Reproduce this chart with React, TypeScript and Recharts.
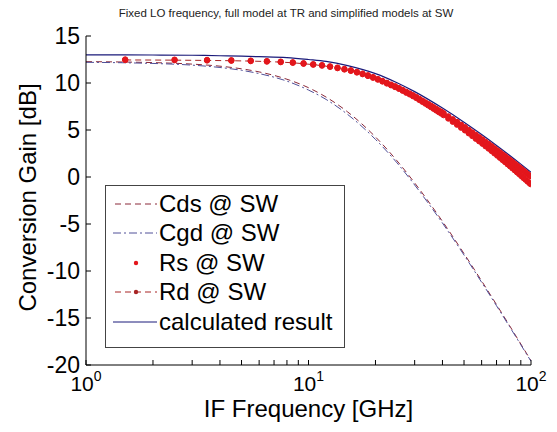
import React from "react";
import { LineChart, Line, XAxis, YAxis, Legend } from "recharts";

const FONT = "'Liberation Sans', Arial, sans-serif";

// frequencies in GHz, gains in dB
const CURVE_FREQ = [1, 1.5, 2, 3, 4, 5, 6, 8, 10, 12, 15, 20, 25, 30, 40, 50, 60, 70, 80, 90, 100];
const CDS_GAIN = [12.27, 12.23, 12.17, 12.01, 11.79, 11.51, 11.18, 10.4, 9.5, 8.5, 6.92, 4.26, 1.72, -0.63, -4.72, -8.15, -11.06, -13.58, -15.79, -17.77, -19.54];
const CGD_GAIN = [12.2, 12.15, 12.08, 11.9, 11.65, 11.35, 11.0, 10.2, 9.25, 8.25, 6.65, 4.0, 1.5, -0.85, -4.9, -8.3, -11.2, -13.7, -15.9, -17.85, -19.6];

const CALC_FREQ = [1, 2, 3, 4, 5, 6, 8, 10, 12, 15, 20, 25, 30, 40, 50, 60, 70, 80, 90, 100];
const CALC_GAIN = [13.0, 12.98, 12.95, 12.9, 12.85, 12.8, 12.7, 12.5, 12.3, 11.85, 11.0, 10.03, 9.08, 7.33, 5.83, 4.52, 3.36, 2.32, 1.37, 0.5];

const MARKER_FREQ = [
  1.5, 2.5, 3.5, 4.5, 5.5, 6.5, 7.5, 8.5, 9.5, 10.5, 11.5, 12.5, 13.5, 14.5, 15.5, 16.5, 17.5, 18.5, 19.5,
  20.5, 21.5, 22.5, 23.5, 24.5, 25.5, 26.5, 27.5, 28.5, 29.5, 30.5, 31.5, 32.5, 33.5, 34.5, 35.5, 36.5, 37.5, 38.5, 39.5, 40.5,
  42.5, 44.5, 46.5, 48.5, 50.5, 52.5, 54.5, 56.5, 58.5, 60.5, 62.5, 64.5, 66.5, 68.5, 70.5,
  72.5, 74.5, 76.5, 78.5, 80.5, 82.5, 84.5, 86.5, 88.5, 90.5, 92.5, 94.5, 96.5, 98.5, 99.5,
];
const RS_GAIN = [
  12.5, 12.48, 12.45, 12.42, 12.38, 12.33, 12.27, 12.2, 12.1, 12.0, 11.9, 11.77, 11.64, 11.5, 11.35, 11.18, 11.0, 10.82, 10.63,
  10.42, 10.22, 10.02, 9.83, 9.65, 9.46, 9.26, 9.06, 8.88, 8.7, 8.51, 8.31, 8.12, 7.94, 7.76, 7.59, 7.42, 7.25, 7.09, 6.94, 6.78,
  6.45, 6.14, 5.85, 5.56, 5.29, 5.01, 4.74, 4.48, 4.23, 3.99, 3.74, 3.51, 3.28, 3.05, 2.83,
  2.62, 2.4, 2.2, 1.99, 1.8, 1.6, 1.41, 1.22, 1.04, 0.85, 0.67, 0.5, 0.32, 0.16, 0.07,
];
const RD_GAIN = [
  12.45, 12.43, 12.4, 12.37, 12.33, 12.28, 12.22, 12.15, 12.05, 11.95, 11.85, 11.72, 11.58, 11.44, 11.29, 11.12, 10.94, 10.75, 10.56,
  10.36, 10.16, 9.95, 9.76, 9.57, 9.38, 9.18, 8.97, 8.79, 8.6, 8.41, 8.2, 8.0, 7.81, 7.62, 7.44, 7.26, 7.08, 6.91, 6.75, 6.58,
  6.22, 5.88, 5.57, 5.25, 4.96, 4.65, 4.36, 4.07, 3.8, 3.54, 3.27, 3.02, 2.77, 2.52, 2.28,
  2.05, 1.81, 1.59, 1.36, 1.15, 0.93, 0.72, 0.51, 0.31, 0.1, -0.1, -0.28, -0.48, -0.65, -0.75,
];

const X_MAJOR = [1, 10, 100];
const X_EXPONENT = ["0", "1", "2"];
const X_TICKS = [1, 2, 3, 4, 5, 6, 7, 8, 9, 10, 20, 30, 40, 50, 60, 70, 80, 90, 100];
const Y_TICKS = [-20, -15, -10, -5, 0, 5, 10, 15];

const zip = (fs: number[], gs: number[]) => fs.map((f, i) => ({ f, g: gs[i] }));

const cdsData = zip(CURVE_FREQ, CDS_GAIN);
const cgdData = zip(CURVE_FREQ, CGD_GAIN);
const calcData = zip(CALC_FREQ, CALC_GAIN);
const rsData = zip(MARKER_FREQ, RS_GAIN);
const rdData = zip(MARKER_FREQ, RD_GAIN);

const C_CDS = "#8a2838";
const C_CGD = "#505098";
const C_RS = "#e3161c";
const C_RD = "#a82424";
const C_CALC = "#1a1a7a";

const Empty = () => <g />;

// labels only on decades, minor ticks get just the tick line
const LogTick = ({ x, y, payload }: any) => {
  const i = X_MAJOR.indexOf(payload.value);
  if (i < 0) return <g />;
  return (
    <text x={x} y={y + 31} textAnchor="middle" fontSize={21} fontFamily={FONT} fill="#000">
      10
      <tspan dy={-10} fontSize={14}>
        {X_EXPONENT[i]}
      </tspan>
    </text>
  );
};

const LEGEND_ROWS = [
  { name: "Cds @ SW", kind: "cds" },
  { name: "Cgd @ SW", kind: "cgd" },
  { name: "Rs @ SW", kind: "rs" },
  { name: "Rd @ SW", kind: "rd" },
  { name: "calculated result", kind: "calc" },
];

const Sample = ({ kind }: { kind: string }) => {
  return (
    <svg width={46} height={20} style={{ display: "block" }}>
      {kind === "cds" && <line x1={2} x2={44} y1={10} y2={10} stroke={C_CDS} strokeDasharray="6 4" />}
      {kind === "cgd" && <line x1={0} x2={44} y1={10} y2={10} stroke={C_CGD} strokeDasharray="8 3 2 3" />}
      {kind === "rs" && <circle cx={23} cy={10} r={2.2} fill={C_RS} />}
      {kind === "rd" && (
        <>
          <line x1={2} x2={44} y1={10} y2={10} stroke={C_RD} strokeDasharray="6 4" />
          <circle cx={23} cy={10} r={2.2} fill={C_RD} />
        </>
      )}
      {kind === "calc" && <line x1={0} x2={44} y1={10} y2={10} stroke={C_CALC} />}
    </svg>
  );
};

const LegendBox = () => (
  <div
    style={{
      width: 240,
      height: 163,
      border: "1px solid #444",
      background: "#fff",
      boxSizing: "border-box",
      paddingTop: 3,
      fontFamily: FONT,
    }}
  >
    {LEGEND_ROWS.map((r) => (
      <div key={r.kind} style={{ display: "flex", alignItems: "center", height: 29.5, paddingLeft: 7 }}>
        <Sample kind={r.kind} />
        <span style={{ fontSize: 24, lineHeight: "24px", color: "#000", whiteSpace: "nowrap" }}>{r.name}</span>
      </div>
    ))}
  </div>
);

export default function App() {
  return (
    <div style={{ position: "relative", width: 541, height: 416, background: "#fff" }}>
      <div
        style={{
          position: "absolute",
          left: 0,
          width: 556,
          top: -1,
          textAlign: "center",
          fontFamily: FONT,
          fontSize: 11.5,
          color: "#222",
          whiteSpace: "nowrap",
        }}
      >
        Fixed LO frequency, full model at TR and simplified models at SW
      </div>
      <LineChart width={541} height={416} margin={{ top: 28, right: 18, left: 0, bottom: 0 }}>
        <XAxis
          xAxisId="b"
          dataKey="f"
          type="number"
          scale="log"
          domain={[1, 100]}
          allowDataOverflow
          ticks={X_TICKS}
          interval={0}
          height={59}
          tickSize={-5}
          tickMargin={0}
          tickLine={{ stroke: "#000" }}
          axisLine={{ stroke: "#000" }}
          tick={<LogTick />}
          label={{
            content: ({ viewBox }: any) => (
              <text
                x={viewBox.x + viewBox.width / 2}
                y={viewBox.y + 52}
                textAnchor="middle"
                fontSize={24}
                fontFamily={FONT}
                fill="#000"
              >
                IF Frequency [GHz]
              </text>
            ),
          }}
        />
        <XAxis
          xAxisId="t"
          orientation="top"
          dataKey="f"
          type="number"
          scale="log"
          domain={[1, 100]}
          allowDataOverflow
          ticks={X_TICKS}
          interval={0}
          height={0}
          tickSize={-5}
          axisLine={{ stroke: "#000" }}
          tickLine={{ stroke: "#000" }}
          tick={<Empty />}
        />
        <YAxis
          yAxisId="l"
          type="number"
          domain={[-20, 15]}
          ticks={Y_TICKS}
          interval={0}
          width={78}
          tickSize={-5}
          tickMargin={11}
          tickLine={{ stroke: "#000" }}
          axisLine={{ stroke: "#000" }}
          tick={{ fontSize: 23, fill: "#000", fontFamily: FONT }}
          label={{
            content: ({ viewBox }: any) => {
              const cx = 19;
              const cy = viewBox.y + viewBox.height / 2 - 3;
              return (
                <text
                  x={cx}
                  y={cy}
                  transform={`rotate(-90 ${cx} ${cy})`}
                  textAnchor="middle"
                  dominantBaseline="central"
                  fontSize={24}
                  fontFamily={FONT}
                  fill="#000"
                >
                  Conversion Gain [dB]
                </text>
              );
            },
          }}
        />
        <YAxis
          yAxisId="r"
          orientation="right"
          type="number"
          domain={[-20, 15]}
          ticks={Y_TICKS}
          interval={0}
          width={0}
          tickSize={-5}
          axisLine={{ stroke: "#000" }}
          tickLine={{ stroke: "#000" }}
          tick={<Empty />}
        />
        <Line
          xAxisId="b"
          yAxisId="l"
          data={cdsData}
          dataKey="g"
          type="monotone"
          stroke={C_CDS}
          strokeWidth={1}
          strokeDasharray="6 4"
          dot={false}
          isAnimationActive={false}
        />
        <Line
          xAxisId="b"
          yAxisId="l"
          data={cgdData}
          dataKey="g"
          type="monotone"
          stroke={C_CGD}
          strokeWidth={1}
          strokeDasharray="8 3 2 3"
          dot={false}
          isAnimationActive={false}
        />
        <Line
          xAxisId="b"
          yAxisId="l"
          data={rdData}
          dataKey="g"
          type="monotone"
          stroke={C_RD}
          strokeWidth={1}
          strokeDasharray="6 4"
          dot={{ r: 2.7, fill: C_RS, stroke: C_RS, strokeWidth: 1, strokeDasharray: "0" }}
          isAnimationActive={false}
        />
        <Line
          xAxisId="b"
          yAxisId="l"
          data={rsData}
          dataKey="g"
          type="monotone"
          stroke="none"
          dot={{ r: 2.7, fill: C_RS, stroke: C_RS, strokeWidth: 1 }}
          isAnimationActive={false}
        />
        <Line
          xAxisId="b"
          yAxisId="l"
          data={calcData}
          dataKey="g"
          type="monotone"
          stroke={C_CALC}
          strokeWidth={1.2}
          dot={false}
          isAnimationActive={false}
        />
        <Legend
          layout="vertical"
          align="center"
          verticalAlign="middle"
          content={<LegendBox />}
          wrapperStyle={{ left: 97, top: 177, width: 240, height: 163 }}
        />
      </LineChart>
    </div>
  );
}
